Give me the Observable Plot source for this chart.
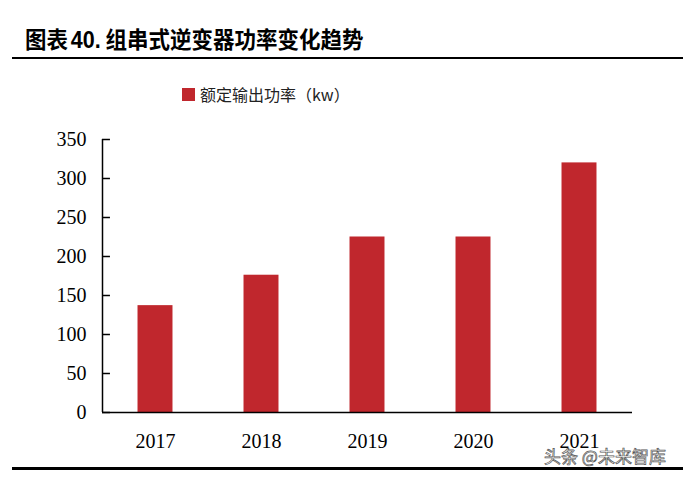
<!DOCTYPE html>
<html><head><meta charset="utf-8">
<script src="https://cdn.jsdelivr.net/npm/d3@7"></script>
<script src="https://cdn.jsdelivr.net/npm/@observablehq/plot@0.6"></script>
<style>
body{margin:0;background:#fff;width:683px;height:477px;overflow:hidden;position:relative;font-family:"Noto Sans CJK SC",sans-serif;}
#title{position:absolute;left:25px;top:23px;font-size:23px;line-height:30px;font-weight:bold;color:#000;white-space:nowrap;transform:scaleX(0.935);transform-origin:left center;}
#title .num{font-family:"Liberation Sans",Arial,sans-serif;margin:0 5px 0 3px;}
#rule1{position:absolute;left:12px;right:0;top:57px;height:2px;background:#000;}
#rule2{position:absolute;left:12px;right:0;top:467px;height:3px;background:#000;}
#legend{position:absolute;left:182px;top:83px;font-size:16px;line-height:22px;color:#222;white-space:nowrap;display:flex;align-items:center;}
#legend .sw{display:inline-block;width:13px;height:13px;background:#C0272D;margin-right:5px;}
#plot{position:absolute;left:0;top:120px;width:683px;}
#plot svg{max-width:none;}
#wm{position:absolute;left:544px;top:443px;font-size:17px;color:#fff;-webkit-text-stroke:0.7px #555;white-space:nowrap;}
</style></head>
<body>
<div id="title">图表<span class="num">40.</span>组串式逆变器功率变化趋势</div>
<div id="rule1"></div>
<div id="legend"><span class="sw"></span>额定输出功率（kw）</div>
<div id="plot"></div>
<div id="rule2"></div>
<div id="wm">头条 @未来智库</div>
<script>
const years = [2017, 2018, 2019, 2020, 2021];
const power = [137, 176, 225, 225, 320];
const yTicks = [0, 50, 100, 150, 200, 250, 300, 350];
const data = years.map((y, i) => ({year: y, value: power[i]}));
const xDomain = [years[0] - 0.5, years[years.length - 1] + 0.5];
const barHalf = 0.165;   // bar half-width in year units
const tickLen = 0.075;   // inward tick length in year units
const chart = Plot.plot({
  width: 683, height: 340,
  marginLeft: 102, marginRight: 51, marginTop: 19, marginBottom: 48,
  style: {fontFamily: "'Liberation Serif','Times New Roman',serif", fontSize: "20px"},
  x: {domain: xDomain, label: null},
  y: {domain: [0, 350], label: null},
  marks: [
    Plot.rectY(data, {x1: d => d.year - barHalf, x2: d => d.year + barHalf, y1: 0, y2: "value", fill: "#C0272D"}),
    Plot.axisY({ticks: yTicks, tickSize: 0, tickPadding: 16, label: null, fontSize: 20}),
    Plot.axisX({ticks: years, tickFormat: d => String(d), tickSize: 0, tickPadding: 21, label: null, fontSize: 20}),
    Plot.ruleY(yTicks, {y: d => d, x1: xDomain[0], x2: xDomain[0] + tickLen, stroke: "#000", strokeWidth: 1.5}),
    Plot.ruleX([xDomain[0]], {y1: 0, y2: 350, stroke: "#000", strokeWidth: 1.5}),
    Plot.ruleY([0], {stroke: "#000", strokeWidth: 1.5})
  ]
});
document.getElementById("plot").appendChild(chart);
</script>
</body></html>
